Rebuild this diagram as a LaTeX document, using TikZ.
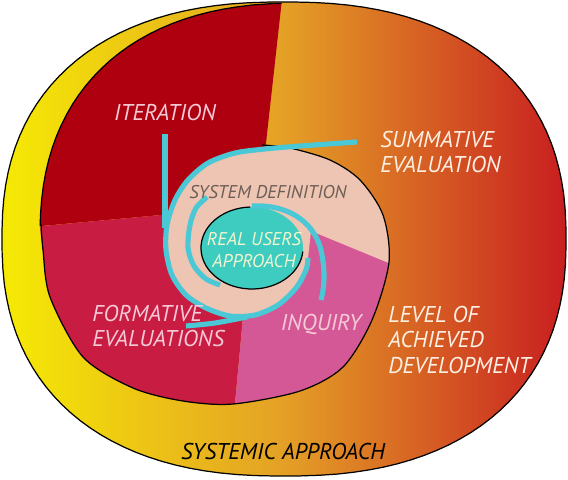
\documentclass[tikz,border=0pt]{standalone}
\usepackage{fontspec}
\setmainfont{PT Sans}
\definecolor{rimyellow}{RGB}{245,234,4}
\definecolor{rimorange}{RGB}{228,160,38}
\definecolor{rimred}{RGB}{200,30,32}
\definecolor{iterred}{RGB}{175,0,16}
\definecolor{formred}{RGB}{200,28,66}
\definecolor{inqpink}{RGB}{213,88,150}
\definecolor{defpeach}{RGB}{238,196,178}
\definecolor{userteal}{RGB}{62,204,192}
\definecolor{armteal}{RGB}{74,200,214}
\definecolor{labpink}{RGB}{245,202,215}
\definecolor{labwhite}{RGB}{255,240,228}
\definecolor{labgrey}{RGB}{108,94,86}
\definecolor{labcream}{RGB}{242,245,205}
\tikzset{
  superell/.style n args={4}{insert path={plot[domain=1:361,samples=121,variable=\ang]
      ({#1+#3*ifthenelse(cos(\ang)<0,-1,1)*abs(cos(\ang))^0.85},
       {#2+#4*ifthenelse(sin(\ang)<0,-1,1)*abs(sin(\ang))^0.85}) -- cycle}},
  innerrim/.style={insert path={plot[smooth cycle] coordinates {(41,224) (43,250) (50,297)
      (83,357) (133,388) (183,401) (233,404) (300,391) (343,367) (372,320) (389,262)
      (383,215) (360,180) (330,160) (290,148) (240,138) (170,145) (100,165) (55,195)}}},
  armpath/.style={insert path={plot[smooth] coordinates {(357,142) (300,146) (265,149)
      (235,153) (208,163) (188,180) (175,200) (167,225) (166,250) (172,275) (186,295)
      (206,308) (230,316) (255,315) (278,305) (296,288) (306,270) (308,258)}}},
  arm/.style={draw=armteal, line width=2.9pt},
  lab/.style={font=\fontsize{13}{14.6}\selectfont\itshape, inner sep=0pt},
  smalllab/.style={font=\fontsize{10.5}{12.6}\selectfont\itshape, inner sep=0pt}
}
\begin{document}
\begin{tikzpicture}[x=0.02cm, y=-0.02cm]
  \useasboundingbox (0,0) rectangle (568,480);
  \draw[line width=0.7pt, left color=rimyellow, right color=rimred, middle color=rimorange,
    superell={284}{239}{282}{237}];
  \begin{scope}
    \clip (252,206) -- (161,215) -- (42,226) -- (-10,232) -- (-10,-10) -- (283,-10) -- (266,143) -- cycle;
    \draw[line width=0.7pt, fill=iterred, superell={303}{239}{263}{236}];
  \end{scope}
  \begin{scope}
    \clip[innerrim];
    \fill[formred] (252,206) -- (242,328) -- (227,490) -- (-10,490) -- (-10,232) -- (42,226) -- (161,215) -- cycle;
    \fill[inqpink] (252,206) -- (600,349) -- (600,490) -- (227,490) -- (242,328) -- cycle;
    \fill[defpeach, armpath] -- (311,231) -- (600,350) -- (600,100) -- cycle;
  \end{scope}
  \draw[line width=0.7pt] plot[smooth] coordinates {(41,224) (43,250) (50,297) (83,357)
    (133,388) (183,401) (233,404) (300,391) (343,367) (372,320) (389,262) (383,215)
    (360,180) (330,160) (290,148) (262,145)};
  \fill[userteal] (252,248) ellipse [x radius=51, y radius=41];
  \draw[line width=0.7pt] (252,248) ++(268:51 and 41) arc [start angle=268, end angle=5, x radius=51, y radius=41];
  \draw[arm, armpath];
  \draw[arm] (165,134) -- (165,228);
  \draw[arm] plot[smooth] coordinates {(186,326) (215,323) (247,317)};
  \draw[arm] plot[smooth] coordinates {(207,197) (196,208) (190,225) (188,248) (194,266) (206,279) (220,285)};
  \draw[arm] (252,206) .. controls (288,204) and (314,222) .. (321,250) .. controls (325,268) and (325,285) .. (321,300);
  \node[lab, text=labpink] (iter) at (165,113) {ITERATION};
  \node[lab, text=labwhite, anchor=west, align=left] (summ) at (380,152) {SUMMATIVE\\EVALUATION};
  \node[smalllab, text=labgrey] (sysdef) at (268,192) {SYSTEM DEFINITION};
  \node[smalllab, text=labcream, align=center] (users) at (254,250) {REAL USERS\\APPROACH};
  \node[lab, text=labpink, anchor=west, align=left] (form) at (92,326) {FORMATIVE\\EVALUATIONS};
  \node[lab, text=labpink] (inq) at (321,324) {INQUIRY};
  \node[lab, text=labwhite, anchor=west, align=left] (level) at (388,340) {LEVEL OF\\ACHIEVED\\DEVELOPMENT};
  \node[lab, text=black] (systemic) at (283,452) {SYSTEMIC APPROACH};
\end{tikzpicture}
\end{document}
